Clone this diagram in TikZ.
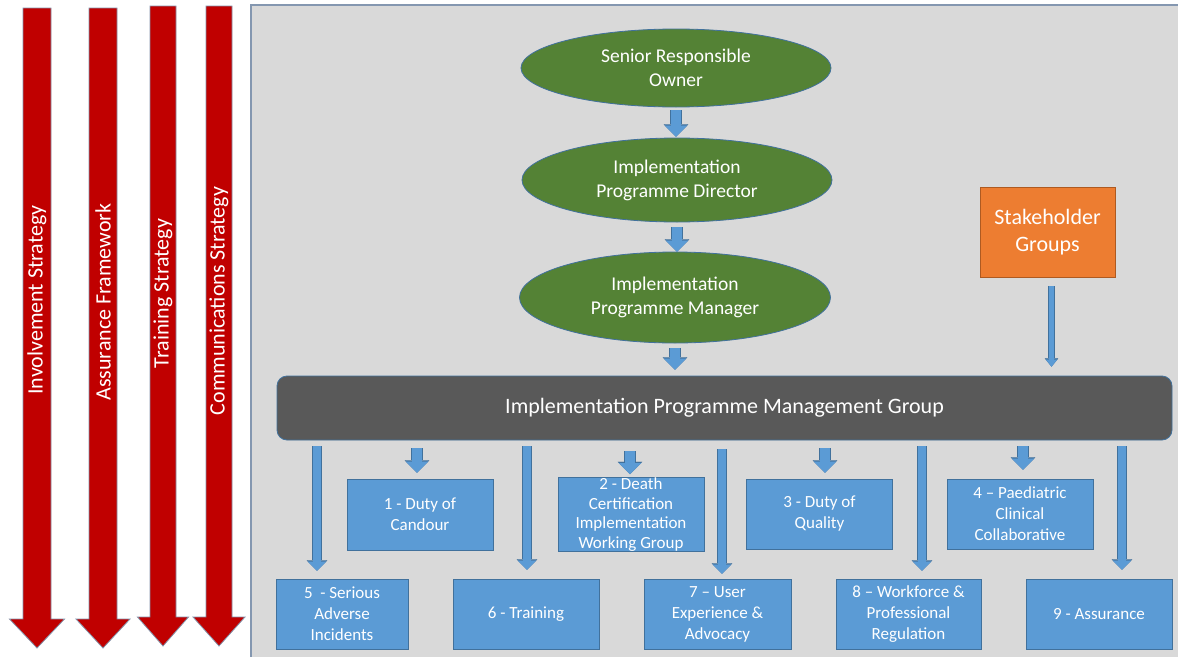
\documentclass[tikz,border=0pt]{standalone}
\usepackage{fontspec}
\setmainfont{Carlito}
\usetikzlibrary{shapes.geometric,arrows.meta,calc}
\definecolor{panelfill}{HTML}{D9D9D9}
\definecolor{panelline}{HTML}{8497B0}
\definecolor{redfill}{HTML}{C00000}
\definecolor{redline}{HTML}{8393AA}
\definecolor{greenfill}{HTML}{548235}
\definecolor{blueline}{HTML}{41719C}
\definecolor{bluefill}{HTML}{5B9BD5}
\definecolor{orangefill}{HTML}{ED7D31}
\definecolor{orangeline}{HTML}{AE5A21}
\definecolor{barfill}{HTML}{595959}
\begin{document}
\begin{tikzpicture}[x=1pt,y=-1pt,
  redarr/.style={fill=redfill, draw=redline, line width=0.8pt, line join=miter},
  redlabel/.style={rotate=90, text=white, inner sep=0pt, font=\fontsize{22}{26}\selectfont},
  ell/.style={ellipse, draw=blueline, line width=0.8pt, fill=greenfill, text=white, align=center, inner sep=0pt, font=\fontsize{19.5}{24}\selectfont},
  bluebox/.style={rectangle, draw=blueline, line width=0.8pt, fill=bluefill, text=white, align=center, minimum width=146pt, minimum height=70pt, inner sep=0pt, font=\fontsize{17}{21}\selectfont},
  orangebox/.style={rectangle, draw=orangeline, line width=0.8pt, fill=orangefill, text=white, align=center, inner sep=0pt, font=\fontsize{22}{27}\selectfont},
  darkbar/.style={rectangle, rounded corners=10pt, draw=blueline, line width=0.8pt, fill=barfill, text=white, inner sep=0pt, font=\fontsize{22}{26}\selectfont},
  shortarr/.style={draw=bluefill, line width=10pt, -{Triangle[width=22pt,length=11pt,line width=0.1pt]},
    preaction={draw=blueline, line width=11.4pt, -{Triangle[width=24.6pt,length=12.3pt,line width=0.1pt]}}},
  longarr/.style={draw=bluefill, line width=8pt, -{Triangle[width=18pt,length=9pt,line width=0.1pt]},
    preaction={draw=blueline, line width=9.4pt, -{Triangle[width=20.6pt,length=10.3pt,line width=0.1pt]}}},
  thinarr/.style={draw=bluefill, line width=5pt, -{Triangle[width=11pt,length=7pt,line width=0.1pt]},
    preaction={draw=blueline, line width=6.2pt, -{Triangle[width=13.4pt,length=8.2pt,line width=0.1pt]}}}
]
\useasboundingbox (0,0) rectangle (1178,656);
\fill[white] (0,0) rectangle (1178,656);

% red strategy arrows
\draw[redarr] (23,8) -- (51,8) -- (51,619) -- (64.5,619) -- (37,648) -- (9.5,619) -- (23,619) -- cycle;
\draw[redarr] (89,8) -- (117,8) -- (117,619) -- (130,619) -- (103,648) -- (76,619) -- (89,619) -- cycle;
\draw[redarr] (150,6) -- (176,6) -- (176,617) -- (188.5,617) -- (163,646) -- (137.5,617) -- (150,617) -- cycle;
\draw[redarr] (206,6) -- (232,6) -- (232,617) -- (245,617) -- (219,646) -- (193,617) -- (206,617) -- cycle;
\node[redlabel] (l1) at (37,300) {Involvement Strategy};
\node[redlabel] (l2) at (103,302) {Assurance Framework};
\node[redlabel] (l3) at (163,293.5) {Training Strategy};
\node[redlabel] (l4) at (219,301) {Communications Strategy};

% grey panel
\draw[fill=panelfill, draw=panelline, line width=1.5pt] (251,5) rectangle (1190,670);

% ellipses
\node[ell, minimum width=310pt, minimum height=78pt] (sro) at (676,68) {Senior Responsible\\Owner};
\node[ell, minimum width=310pt, minimum height=84pt] (ipd) at (677,180) {Implementation\\Programme Director};
\node[ell, minimum width=311pt, minimum height=91pt] (ipm) at (675,297.5) {Implementation\\Programme Manager};

% stakeholder
\node[orangebox, minimum width=135pt, minimum height=90pt] (stk) at (1047.5,232) {Stakeholder\\Groups};

% management bar
\node[darkbar, minimum width=895pt, minimum height=64pt] (bar) at (724.5,408) {Implementation Programme Management Group};

% middle boxes
\node[bluebox, minimum height=71pt] (b1) at (420,514.5) {1 - Duty of\\Candour};
\node[bluebox, minimum height=71pt, font=\fontsize{17}{19.7}\selectfont] (b2) at (631,514.5) {2 - Death\\Certification\\Implementation\\Working Group};
\node[bluebox] (b3) at (819.5,514) {3 - Duty of\\Quality};
\node[bluebox] (b4) at (1020,514) {4 – Paediatric\\Clinical\\Collaborative};

% bottom boxes
\node[bluebox, minimum width=132pt] (b5) at (342,614) {5\ \ - Serious\\Adverse\\Incidents};
\node[bluebox] (b6) at (526,614) {6 - Training};
\node[bluebox, minimum width=147pt] (b7) at (717.5,614) {7 – User\\Experience \&\\Advocacy};
\node[bluebox, minimum width=145pt] (b8) at (908.5,614) {8 – Workforce \&\\Professional\\Regulation};
\node[bluebox] (b9) at (1099,614) {9 - Assurance};

% top chain arrows
\draw[shortarr, shorten <=3pt, shorten >=1pt] (sro.south) -- (sro.south |- ipd.north);
\draw[shortarr, shorten <=5pt, shorten >=0pt] (ipd.south) -- (ipd.south |- ipm.north);
\draw[shortarr, shorten <=5pt, shorten >=6pt] (ipm.south) -- (ipm.south |- bar.north);

% stakeholder arrow
\draw[thinarr, shorten <=9pt, shorten >=9pt] ($(stk.south)+(4,0)$) -- ($(stk.south |- bar.north)+(4,0)$);

% short arrows to middle boxes
\draw[shortarr, shorten <=8pt, shorten >=6pt] ($(b1.north |- bar.south)+(-3,0)$) -- ($(b1.north)+(-3,0)$);
\draw[shortarr, shorten <=11pt, shorten >=3pt] ($(b2.north |- bar.south)+(-1,0)$) -- ($(b2.north)+(-1,0)$);
\draw[shortarr, shorten <=8pt, shorten >=6pt] ($(b3.north |- bar.south)+(5.5,0)$) -- ($(b3.north)+(5.5,0)$);
\draw[shortarr, shorten <=6pt, shorten >=9pt] ($(b4.north |- bar.south)+(3,0)$) -- ($(b4.north)+(3,0)$);

% long arrows to bottom boxes
\draw[longarr, shorten <=6pt, shorten >=8pt] ($(b5.north |- bar.south)+(-25,0)$) -- ($(b5.north)+(-25,0)$);
\draw[longarr, shorten <=6pt, shorten >=9pt] ($(b6.north |- bar.south)+(1,0)$) -- ($(b6.north)+(1,0)$);
\draw[longarr, shorten <=9pt, shorten >=5pt] ($(b7.north |- bar.south)+(4.5,0)$) -- ($(b7.north)+(4.5,0)$);
\draw[longarr, shorten <=6pt, shorten >=8pt] ($(b8.north |- bar.south)+(13.5,0)$) -- ($(b8.north)+(13.5,0)$);
\draw[longarr, shorten <=6pt, shorten >=9pt] ($(b9.north |- bar.south)+(23,0)$) -- ($(b9.north)+(23,0)$);
\end{tikzpicture}
\end{document}
